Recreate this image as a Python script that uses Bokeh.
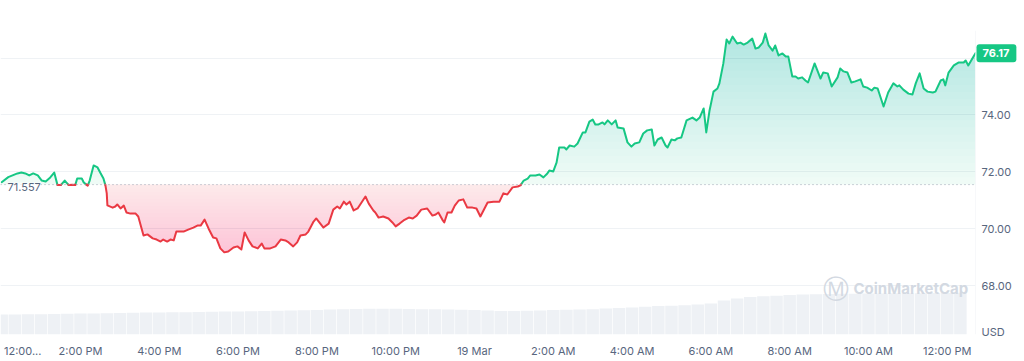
import numpy as np
from bokeh.plotting import figure
from bokeh.models import Range1d, FixedTicker, Span, Label, PrintfTickFormatter
from bokeh.embed import file_html
from bokeh.resources import INLINE

# ---------------- data ----------------
# minutes after 18 Mar 12:00 PM
minutes = [0, 10, 24, 30, 36, 42, 48, 55, 61, 67,
           74, 80, 85, 90, 96, 102, 108, 112, 115, 122,
           125, 131, 134, 140, 146, 150, 155, 158, 160, 161,
           169, 173, 176, 181, 186, 190, 196, 204, 208, 216,
           222, 230, 236, 242, 246, 252, 257, 262, 266, 272,
           277, 284, 292, 298, 303, 309, 315, 322, 327, 333,
           339, 345, 353, 359, 365, 370, 376, 382, 390, 396,
           400, 409, 417, 425, 432, 437, 444, 450, 455, 463,
           467, 475, 479, 490, 498, 505, 511, 515, 521, 525,
           530, 536, 542, 550, 554, 559, 566, 569, 574, 581,
           589, 595, 600, 606, 612, 620, 626, 632, 639, 648,
           656, 661, 665, 671, 674, 679, 685, 690, 696, 703,
           709, 717, 723, 729, 740, 749, 758, 764, 770, 778,
           786, 790, 795, 801, 805, 813, 819, 825, 831, 834,
           840, 845, 849, 857, 860, 865, 872, 877, 885, 889,
           895, 900, 904, 909, 915, 918, 923, 929, 935, 938,
           947, 953, 959, 964, 971, 977, 983, 990, 994, 999,
           1005, 1011, 1014, 1020, 1025, 1029, 1035, 1043, 1052, 1058,
           1063, 1069, 1073, 1078, 1084, 1090, 1093, 1099, 1104, 1108,
           1113, 1120, 1125, 1130, 1136, 1143, 1148, 1153, 1159, 1163,
           1168, 1174, 1178, 1183, 1189, 1194, 1198, 1204, 1209, 1213,
           1219, 1224, 1228, 1238, 1247, 1251, 1258, 1264, 1273, 1277,
           1282, 1288, 1294, 1300, 1308, 1312, 1318, 1325, 1329, 1334,
           1343, 1350, 1358, 1364, 1367, 1373, 1381, 1387, 1392, 1398,
           1404, 1410, 1418, 1422, 1430, 1434, 1437, 1442, 1450, 1457,
           1465, 1468, 1472, 1480, 1483]

prices = [71.64, 71.82, 71.95, 71.98, 71.95, 71.88, 71.95, 71.88, 71.70, 71.67,
          71.81, 71.98, 71.54, 71.54, 71.70, 71.54, 71.55, 71.54, 71.77, 71.77,
          71.63, 71.52, 71.70, 72.23, 72.16, 71.98, 71.77, 71.53, 71.25, 70.83,
          70.75, 70.79, 70.86, 70.72, 70.82, 70.58, 70.54, 70.54, 70.44, 69.77,
          69.81, 69.67, 69.63, 69.56, 69.63, 69.56, 69.63, 69.60, 69.91, 69.91,
          69.91, 69.98, 70.05, 70.12, 70.12, 70.33, 70.02, 69.70, 69.67, 69.32,
          69.18, 69.21, 69.35, 69.39, 69.28, 69.88, 69.60, 69.39, 69.32, 69.49,
          69.32, 69.32, 69.39, 69.63, 69.60, 69.53, 69.39, 69.53, 69.77, 69.81,
          69.91, 70.26, 70.37, 70.05, 70.19, 70.68, 70.79, 70.72, 70.96, 70.86,
          70.96, 70.65, 70.72, 71.00, 71.14, 70.89, 70.65, 70.58, 70.40, 70.44,
          70.37, 70.23, 70.09, 70.19, 70.30, 70.40, 70.37, 70.47, 70.68, 70.72,
          70.47, 70.51, 70.58, 70.33, 70.23, 70.58, 70.58, 70.82, 71.00, 71.04,
          70.75, 70.75, 70.72, 70.44, 70.93, 70.96, 70.96, 71.25, 71.21, 71.46,
          71.49, 71.53, 71.70, 71.77, 71.88, 71.88, 71.91, 71.81, 71.95, 72.05,
          72.02, 72.33, 72.86, 72.86, 72.79, 72.93, 72.89, 73.00, 73.39, 73.39,
          73.77, 73.84, 73.67, 73.67, 73.74, 73.67, 73.81, 73.67, 73.81, 73.56,
          73.53, 73.04, 72.89, 73.00, 73.04, 73.35, 73.46, 73.49, 72.93, 73.14,
          73.21, 72.93, 72.86, 73.14, 73.11, 73.18, 73.21, 73.81, 73.91, 73.81,
          73.91, 74.23, 73.39, 74.16, 74.82, 74.93, 75.11, 75.81, 76.65, 76.51,
          76.75, 76.51, 76.54, 76.47, 76.54, 76.68, 76.33, 76.37, 76.54, 76.86,
          76.44, 76.26, 76.44, 76.09, 76.16, 76.05, 76.05, 75.35, 75.35, 75.28,
          75.32, 75.21, 75.14, 75.81, 75.28, 75.49, 75.46, 75.00, 75.32, 75.63,
          75.53, 75.49, 75.14, 75.18, 75.25, 75.00, 74.96, 74.86, 74.96, 74.93,
          74.30, 74.79, 75.11, 75.00, 75.04, 74.89, 74.75, 74.72, 75.11, 75.46,
          74.93, 74.82, 74.79, 74.82, 75.21, 75.25, 75.04, 75.49, 75.74, 75.84,
          75.84, 75.91, 75.74, 76.05, 76.17]

baseline = 71.557

# volume bars, one every 20 minutes (millions USD)
vol_minutes = list(range(0, 1480, 20))
volume = [400, 400, 405, 405, 410, 415, 420, 420, 425, 430,
          435, 440, 440, 445, 445, 450, 455, 460, 460, 465,
          470, 475, 480, 485, 490, 500, 505, 510, 515, 515,
          515, 510, 505, 505, 500, 495, 490, 480, 470, 470,
          475, 480, 490, 495, 500, 505, 520, 530, 540, 555,
          570, 575, 585, 600, 620, 680, 720, 750, 765, 775,
          790, 800, 805, 810, 815, 815, 820, 820, 825, 825,
          825, 830, 830, 835]

x_ticks = [120, 240, 360, 480, 600, 720, 840, 960, 1080, 1200, 1320, 1440]
x_tick_labels = ["2:00 PM", "4:00 PM", "6:00 PM", "8:00 PM", "10:00 PM", "19 Mar",
                 "2:00 AM", "4:00 AM", "6:00 AM", "8:00 AM", "10:00 AM", "12:00 PM"]
first_tick_label = "12:00..."   # truncated 12:00 PM label, drawn left-aligned
y_ticks = [68, 70, 72, 74]
grid_ticks = [68, 70, 72, 74, 76]
currency = "USD"

GREEN = "#16c784"
RED = "#ea3943"
TXT = "#58667e"
FONT = "Inter"

# ------------- split line at the baseline -------------
t = np.array(minutes, dtype=float)
pr = np.array(prices, dtype=float)

t_all, p_all = [t[0]], [pr[0]]
segs = {True: ([], []), False: ([], [])}
cur_x, cur_y = [t[0]], [pr[0]]
cur_up = pr[0] >= baseline
for i in range(1, len(t)):
    up = pr[i] >= baseline
    if up != cur_up:
        f = (baseline - pr[i - 1]) / (pr[i] - pr[i - 1])
        xc = t[i - 1] + f * (t[i] - t[i - 1])
        cur_x.append(xc); cur_y.append(baseline)
        segs[cur_up][0].append(cur_x); segs[cur_up][1].append(cur_y)
        cur_x, cur_y = [xc], [baseline]
        cur_up = up
        t_all.append(xc); p_all.append(baseline)
    cur_x.append(t[i]); cur_y.append(pr[i])
    t_all.append(t[i]); p_all.append(pr[i])
segs[cur_up][0].append(cur_x); segs[cur_up][1].append(cur_y)
t_all = np.array(t_all); p_all = np.array(p_all)

# ------------- figure -------------
Y_LO, Y_HI = 66.298, 76.965
X_LO, X_HI = -1.8, 1483
p = figure(width=1024, height=361, output_backend="svg", toolbar_location=None,
           x_range=Range1d(X_LO, X_HI), y_range=Range1d(Y_LO, Y_HI),
           y_axis_location="right",
           min_border_left=0, min_border_top=30, min_border_right=49, min_border_bottom=27)
p.outline_line_color = None
p.background_fill_color = "white"
p.border_fill_color = "white"

p.xgrid.grid_line_color = None
p.ygrid.ticker = FixedTicker(ticks=grid_ticks)
p.ygrid.grid_line_color = "#eff2f5"
p.ygrid.grid_line_width = 1

# volume
p.extra_y_ranges = {"vol": Range1d(0, 6080)}
p.vbar(x=vol_minutes, top=volume, bottom=0, width=19, y_range_name="vol",
       fill_color="#eef1f5", line_color=None)

# gradient fills
upper = np.maximum(p_all, baseline)
lower = np.minimum(p_all, baseline)
p.varea(x=t_all, y1=baseline, y2=upper, fill_color=GREEN, fill_alpha=0.07)
p.varea(x=t_all, y1=lower, y2=baseline, fill_color=RED, fill_alpha=0.11)
for k in range(1, 21):
    lvl = baseline + k * 0.25
    p.varea(x=t_all, y1=lvl, y2=np.maximum(p_all, lvl), fill_color=GREEN, fill_alpha=0.012)
for k in range(1, 21):
    lvl = baseline - k * 0.125
    p.varea(x=t_all, y1=np.minimum(p_all, lvl), y2=lvl, fill_color=RED, fill_alpha=0.009)

# baseline
p.add_layout(Span(location=baseline, dimension="width", line_color="#9aa3b3",
                  line_dash="1 3", line_width=1))
# right edge
p.add_layout(Span(location=X_HI, dimension="height", line_color="#eff2f5", line_width=1))

# price line
p.multi_line(xs=segs[True][0], ys=segs[True][1], line_color=GREEN, line_width=2,
             line_join="round", line_cap="round")
p.multi_line(xs=segs[False][0], ys=segs[False][1], line_color=RED, line_width=2,
             line_join="round", line_cap="round")

# x axis (first label is the truncated 12:00 PM label, nudged right so it is not cut)
first_label_pos = 32
xa = p.xaxis[0]
xa.ticker = FixedTicker(ticks=[first_label_pos] + x_ticks)
xa.major_label_overrides = {first_label_pos: first_tick_label,
                            **{k: v for k, v in zip(x_ticks, x_tick_labels)}}
xa.axis_line_color = None
xa.major_tick_line_color = None
xa.minor_tick_line_color = None
xa.major_tick_out = 0
xa.major_tick_in = 0
xa.major_label_standoff = 9
xa.major_label_text_font = FONT
xa.major_label_text_font_size = "11px"
xa.major_label_text_color = TXT

# y axis (USD unit shown at the bottom of the price scale)
usd_pos = 66.37
ya = p.yaxis[0]
ya.ticker = FixedTicker(ticks=[usd_pos] + y_ticks)
ya.formatter = PrintfTickFormatter(format="%.2f")
ya.major_label_overrides = {usd_pos: currency}
ya.axis_line_color = None
ya.major_tick_line_color = None
ya.minor_tick_line_color = None
ya.major_tick_out = 0
ya.major_tick_in = 0
ya.major_label_standoff = 6
ya.major_label_text_font = FONT
ya.major_label_text_font_size = "11px"
ya.major_label_text_color = TXT

# baseline value label
p.add_layout(Label(x=7, y=baseline, x_units="screen", text=f"{baseline:.3f}",
                   text_font=FONT, text_font_size="11px", text_color=TXT,
                   text_align="left", text_baseline="middle", y_offset=-2,
                   background_fill_color="white", background_fill_alpha=0.7))
# current price tag (placed in the top side panel so it is not clipped by the frame)
p.add_layout(Label(x=976, y=prices[-1], x_units="screen", text=f"{prices[-1]:.2f}",
                   text_font=FONT, text_font_size="11px", text_font_style="bold",
                   text_color="white", text_align="left", text_baseline="middle",
                   background_fill_color=GREEN,
                   padding=dict(left=6, right=7, top=5, bottom=5), border_radius=3), "above")
# watermark
p.add_layout(Label(x=835, y=46, x_units="screen", y_units="screen", text="Ⓜ",
                   text_font="DejaVu Sans", text_font_size="26px", text_color="#d3d9e2",
                   text_align="center", text_baseline="middle"))
p.add_layout(Label(x=853, y=46, x_units="screen", y_units="screen", text="CoinMarketCap",
                   text_font=FONT, text_font_size="15px", text_font_style="bold",
                   text_color="#d3d9e2", text_align="left", text_baseline="middle"))

open("out.html", "w").write(file_html(p, INLINE))
